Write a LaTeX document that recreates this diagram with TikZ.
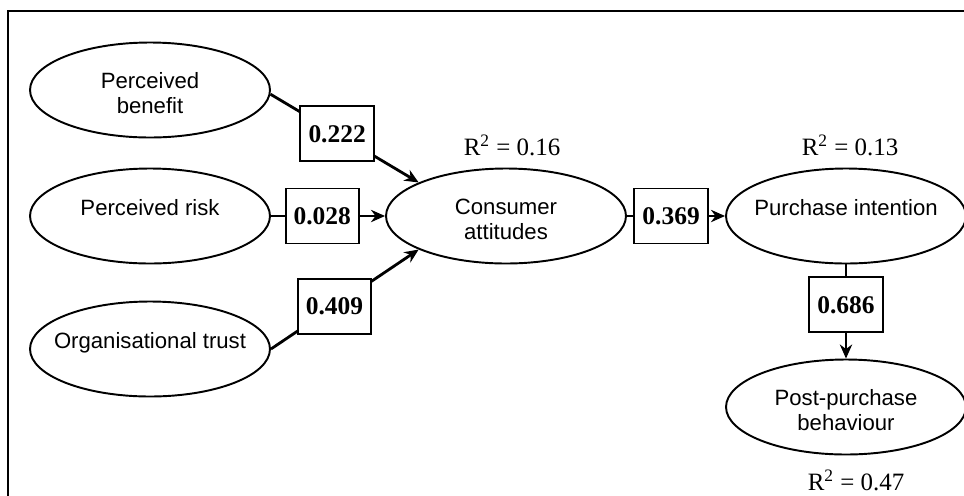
\documentclass[tikz,border=0pt]{standalone}
\usepackage{fontspec}
\setmainfont{Liberation Serif}
\setsansfont{Liberation Sans}
\usetikzlibrary{shapes.geometric,arrows.meta}
\newcommand{\elltext}[1]{\makebox[0pt]{\begin{tabular}{@{}c@{}}#1\end{tabular}}}

\begin{document}
\begin{tikzpicture}[x=0.02cm, y=-0.02cm]
\tikzstyle{construct} = [ellipse, draw, line width=1.1pt, minimum width=4.8cm, minimum height=1.9cm, inner sep=0pt, font=\sffamily\fontsize{12.6}{14}\selectfont]
\tikzstyle{oneline} = [text height=8pt, text depth=8pt]
\tikzstyle{twoline} = [text height=20.5pt, text depth=7.5pt]
\tikzstyle{coef} = [rectangle, draw, fill=white, line width=1.1pt, minimum width=1.47cm, minimum height=1.1cm, inner sep=0pt, font=\bfseries\fontsize{14.5}{16}\selectfont]
\tikzstyle{link} = [draw, line width=1.6pt, -{Stealth[length=8pt,width=7pt]}]
\tikzstyle{rsq} = [font=\fontsize{14.2}{16}\selectfont]

\useasboundingbox (0,0) rectangle (964,495);
\clip (0,0) rectangle (964,495);
\draw[line width=0.9pt] (8,11) rectangle (1000,530);

\node[construct, twoline] (pb) at (150, 90) {\elltext{Perceived\\ benefit}};
\node[construct, oneline] (pr) at (150, 216) {\elltext{Perceived risk}};
\node[construct, oneline] (ot) at (150, 349) {\elltext{Organisational trust}};
\node[construct, twoline] (ca) at (506, 216) {\elltext{Consumer\\ attitudes}};
\node[construct, oneline] (pi) at (846, 216) {\elltext{Purchase intention}};
\node[construct, twoline] (ppb) at (846, 407) {\elltext{Post-purchase\\ behaviour}};

\node[rsq] (r1) at (512, 145) {R\textsuperscript{2} = 0.16};
\node[rsq] (r2) at (850, 145) {R\textsuperscript{2} = 0.13};
\node[rsq] (r3) at (856, 480) {R\textsuperscript{2} = 0.47};

\draw[link] (pb.-2) -- node[coef, pos=.45] (b1) {0.222} (ca.159);
\draw[link] (pr) -- node[coef, pos=.45] (b2) {0.028} (ca);
\draw[link] (ot.east) -- node[coef, pos=.43] (b3) {0.409} (ca.201);
\draw[link] (ca) -- node[coef, pos=.45] (b4) {0.369} (pi);
\draw[link] (pi) -- node[coef, pos=.43] (b5) {0.686} (ppb);
\end{tikzpicture}
\end{document}
